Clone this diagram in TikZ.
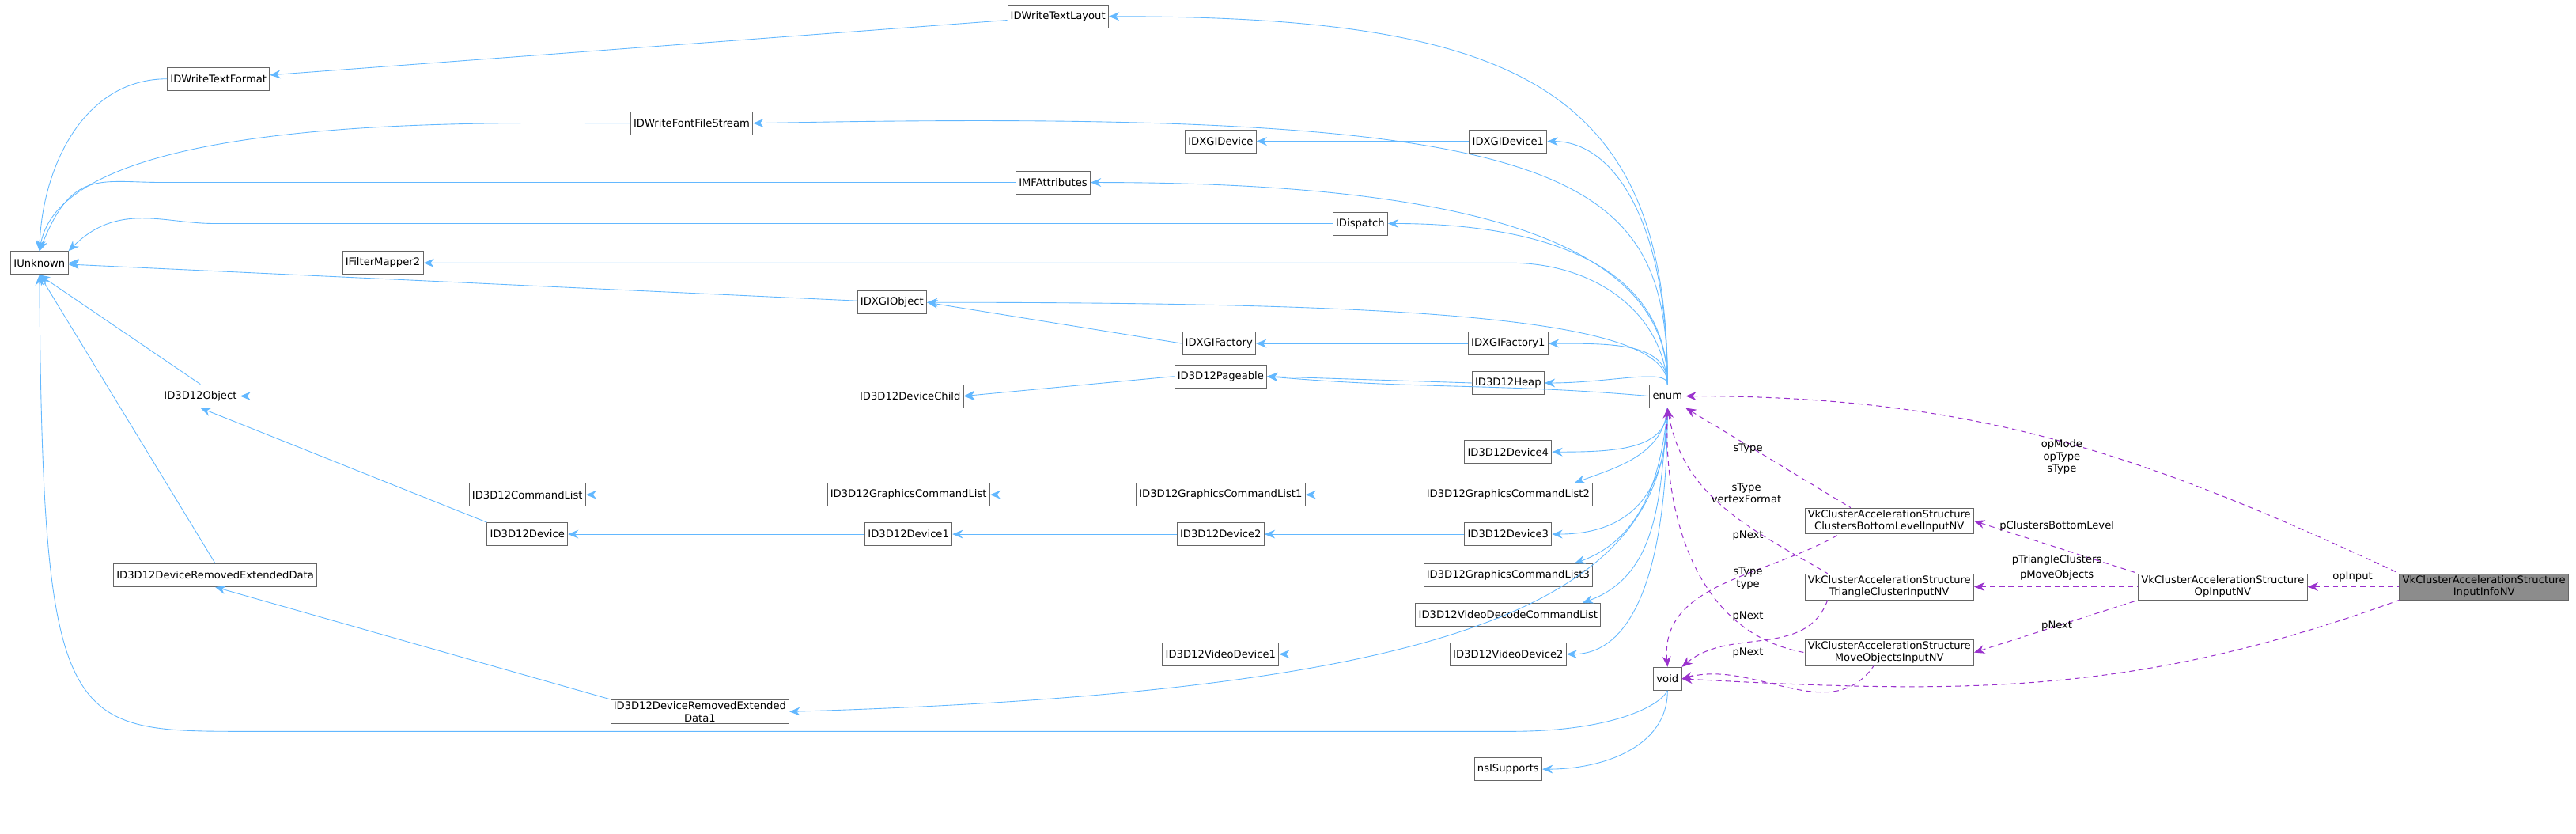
\documentclass[tikz,border=0pt]{standalone}
\usepackage{fontspec}
\setmainfont{DejaVu Sans}
\usetikzlibrary{positioning, arrows.meta, calc}
\definecolor{inhblue}{HTML}{63B8FF}
\definecolor{usepurple}{HTML}{9A32CD}
\tikzset{
    cls/.style={draw=black!60, line width=0.3pt, fill=white, font=\fontsize{4.5}{5.3}\selectfont, inner xsep=1.3pt, inner ysep=0.8pt, minimum height=3.5mm, align=center},
    cur/.style={cls, fill=black!45},
    inh/.style={draw=inhblue, line width=0.3pt, {Stealth[length=1.6mm,width=1.3mm]}-},
    use/.style={draw=usepurple, line width=0.35pt, dash pattern=on 0.8mm off 0.6mm, {Stealth[length=1.6mm,width=1.3mm]}-},
    lbl/.style={font=\fontsize{4.5}{5.3}\selectfont, align=center, inner sep=0.5pt}
}
\begin{document}
\begin{tikzpicture}[x=0.25mm, y=0.25mm]
    \useasboundingbox (0,0) rectangle (1568,-507);

    % left column
    \node[cls] (IUnknown) at (24,-160) {IUnknown};
    \node[cls] (IDWriteTextFormat) at (133,-48) {IDWriteTextFormat};
    \node[cls] (IDWriteTextLayout) at (644,-10) {IDWriteTextLayout};
    \node[cls] (IDWriteFontFileStream) at (421,-75) {IDWriteFontFileStream};
    \node[cls] (IDXGIDevice) at (743,-86) {IDXGIDevice};
    \node[cls] (IDXGIDevice1) at (918,-86) {IDXGIDevice1};
    \node[cls] (IMFAttributes) at (641,-111) {IMFAttributes};
    \node[cls] (IDispatch) at (828,-136) {IDispatch};
    \node[cls] (IFilterMapper2) at (233,-160) {IFilterMapper2};
    \node[cls] (IDXGIObject) at (543,-184) {IDXGIObject};
    \node[cls] (IDXGIFactory) at (742,-209) {IDXGIFactory};
    \node[cls] (IDXGIFactory1) at (918,-209) {IDXGIFactory1};
    \node[cls] (ID3D12Heap) at (918,-233) {ID3D12Heap};
    \node[cls] (ID3D12Object) at (122,-241) {ID3D12Object};
    \node[cls] (ID3D12DeviceChild) at (554,-241) {ID3D12DeviceChild};
    \node[cls] (ID3D12Pageable) at (743,-229) {ID3D12Pageable};
    \node[cls] (enum) at (1015,-241) {enum};
    \node[cls] (ID3D12Device4) at (918,-275) {ID3D12Device4};
    \node[cls] (ID3D12CommandList) at (321,-301) {ID3D12CommandList};
    \node[cls] (ID3D12GraphicsCommandList) at (553,-301) {ID3D12GraphicsCommandList};
    \node[cls] (ID3D12GraphicsCommandList1) at (743,-301) {ID3D12GraphicsCommandList1};
    \node[cls] (ID3D12GraphicsCommandList2) at (918,-301) {ID3D12GraphicsCommandList2};
    \node[cls] (ID3D12Device) at (321,-325) {ID3D12Device};
    \node[cls] (ID3D12Device1) at (553,-325) {ID3D12Device1};
    \node[cls] (ID3D12Device2) at (743,-325) {ID3D12Device2};
    \node[cls] (ID3D12Device3) at (918,-325) {ID3D12Device3};
    \node[cls] (ID3D12GraphicsCommandList3) at (918,-350) {ID3D12GraphicsCommandList3};
    \node[cls] (ID3D12DeviceRemovedExtendedData) at (131,-350) {ID3D12DeviceRemovedExtendedData};
    \node[cls] (ID3D12VideoDecodeCommandList) at (918,-374) {ID3D12VideoDecodeCommandList};
    \node[cls] (ID3D12VideoDevice1) at (743,-398) {ID3D12VideoDevice1};
    \node[cls] (ID3D12VideoDevice2) at (918,-398) {ID3D12VideoDevice2};
    \node[cls] (ID3D12DeviceRemovedExtendedData1) at (426,-433) {ID3D12DeviceRemovedExtended\\Data1};
    \node[cls] (void) at (1015,-413) {void};
    \node[cls] (nsISupports) at (918,-468) {nsISupports};

    % right part
    \node[cls] (ClustersBottomLevel) at (1150,-317) {VkClusterAccelerationStructure\\ClustersBottomLevelInputNV};
    \node[cls] (TriangleCluster) at (1150,-357) {VkClusterAccelerationStructure\\TriangleClusterInputNV};
    \node[cls] (MoveObjects) at (1150,-397) {VkClusterAccelerationStructure\\MoveObjectsInputNV};
    \node[cls] (OpInput) at (1353,-357) {VkClusterAccelerationStructure\\OpInputNV};
    \node[cur] (InputInfo) at (1512,-357) {VkClusterAccelerationStructure\\InputInfoNV};

    % straight inheritance
    \foreach \a/\b in {IUnknown/IFilterMapper2, IUnknown/IDXGIObject, IDXGIDevice/IDXGIDevice1, IDXGIFactory/IDXGIFactory1,
        ID3D12Object/ID3D12DeviceChild, ID3D12CommandList/ID3D12GraphicsCommandList,
        ID3D12GraphicsCommandList/ID3D12GraphicsCommandList1, ID3D12GraphicsCommandList1/ID3D12GraphicsCommandList2,
        ID3D12Device/ID3D12Device1, ID3D12Device1/ID3D12Device2, ID3D12Device2/ID3D12Device3,
        ID3D12VideoDevice1/ID3D12VideoDevice2, IDWriteTextFormat/IDWriteTextLayout, ID3D12DeviceChild/enum}
    {
        \draw[inh] (\a) -- (\b);
    }
    \draw[inh] (ID3D12DeviceChild.east) -- (ID3D12Pageable.west);
    \draw[inh] (ID3D12Pageable.east) -- (ID3D12Heap.west);
    \draw[inh] (IDXGIObject.east) -- (IDXGIFactory.west);
    \draw[inh] (ID3D12Pageable.east) to[out=-5, in=175] (enum.west);
    \draw[inh] (IFilterMapper2.east) -- (920,-160) to[out=0, in=95] (enum.north);

    % to IUnknown
    \draw[inh] (IUnknown.north) to[out=88, in=180] (IDWriteTextFormat.west);
    \draw[inh] (IUnknown.north) to[out=80, in=180, looseness=0.6] (IDWriteFontFileStream.west);
    \draw[inh] (IUnknown.north) .. controls +(20,50) and +(-40,0) .. (100,-111) -- (IMFAttributes.west);
    \draw[inh] (IUnknown.north east) .. controls +(30,30) and +(-30,0) .. (130,-136) -- (IDispatch.west);
    \draw[inh] (IUnknown.south) -- (ID3D12Object.north);
    \draw[inh] (IUnknown.south) -- (ID3D12DeviceRemovedExtendedData.north);
    \draw[inh] (IUnknown.south) .. controls (26,-445) and (40,-445) .. (150,-445)
        -- (920,-445) .. controls (980,-445) and (1010,-430) .. (void.south);
    \draw[inh] (ID3D12Object.south) -- (ID3D12Device.north west);
    \draw[inh] (ID3D12DeviceRemovedExtendedData.south) -- (ID3D12DeviceRemovedExtendedData1.north west);

    % from enum, upwards
    \foreach \p/\c/\e/\d in {IDWriteTextLayout/250/0/180, IDWriteFontFileStream/500/10/130, IDXGIDevice1/40/0/100,
        IMFAttributes/250/0/80, IDispatch/100/0/70, IDXGIObject/300/0/40, IDXGIFactory1/40/0/25, ID3D12Heap/40/0/10}
    {
        \draw[inh] (\p.east) .. controls +(\c,\e) and +(0,\d) .. (enum.north);
    }

    % from enum, downwards
    \foreach \p/\d in {ID3D12Device4/-25, ID3D12Device3/-60, ID3D12VideoDevice2/-100}
    {
        \draw[inh] (\p.east) .. controls +(40,0) and +(0,\d) .. (enum.south);
    }
    \foreach \p in {ID3D12GraphicsCommandList2, ID3D12GraphicsCommandList3, ID3D12VideoDecodeCommandList}
    {
        \draw[inh] ([xshift=-8]\p.north east) to[out=20, in=-95] (enum.south);
    }
    \draw[inh] (ID3D12DeviceRemovedExtendedData1.east) .. controls +(400,12) and +(0,-120) .. (enum.south);
    \draw[inh] (nsISupports.east) to[out=0, in=-90] (void.south);

    % members
    \draw[use] (enum.east) to[out=0, in=155] (InputInfo.north west);
    \draw[use] (OpInput.east) -- (InputInfo.west);
    \draw[use] (void.east) to[out=-3, in=200] (InputInfo.south west);
    \draw[use] (ClustersBottomLevel.east) -- (OpInput.north west);
    \draw[use] (TriangleCluster.east) -- (OpInput.west);
    \draw[use] (MoveObjects.east) -- (OpInput.south west);
    \draw[use] (enum.south east) -- ([xshift=20]ClustersBottomLevel.north west);
    \draw[use] (enum.south) to[out=-80, in=150] ([xshift=10]TriangleCluster.north west);
    \draw[use] (enum.south) to[out=-92, in=170] (MoveObjects.west);
    \draw[use] (void.north) to[out=95, in=210] ([xshift=15]ClustersBottomLevel.south west);
    \draw[use] (void.north east) to[out=40, in=250] ([xshift=10]TriangleCluster.south west);
    \draw[use] (void.east) to[out=15, in=235] ([xshift=30]MoveObjects.south west);

    % member labels
    \node[lbl] (lEnumInfo) at (1255,-278) {opMode\\opType\\sType};
    \node[lbl] (lOpInput) at (1432,-351) {opInput};
    \node[lbl] (lInfoVoid) at (1252,-381) {pNext};
    \node[lbl] (lClusters) at (1252,-320) {pClustersBottomLevel};
    \node[lbl] (lTriangle) at (1252,-341) {pTriangleClusters};
    \node[lbl] (lMove) at (1252,-350) {pMoveObjects};
    \node[lbl] (lS1) at (1064,-273) {sType};
    \node[lbl] (lS2) at (1063,-300) {sType\\vertexFormat};
    \node[lbl] (lN1) at (1064,-326) {pNext};
    \node[lbl] (lS3) at (1064,-352) {sType\\type};
    \node[lbl] (lN2) at (1064,-375) {pNext};
    \node[lbl] (lN3) at (1064,-397) {pNext};
\end{tikzpicture}
\end{document}
